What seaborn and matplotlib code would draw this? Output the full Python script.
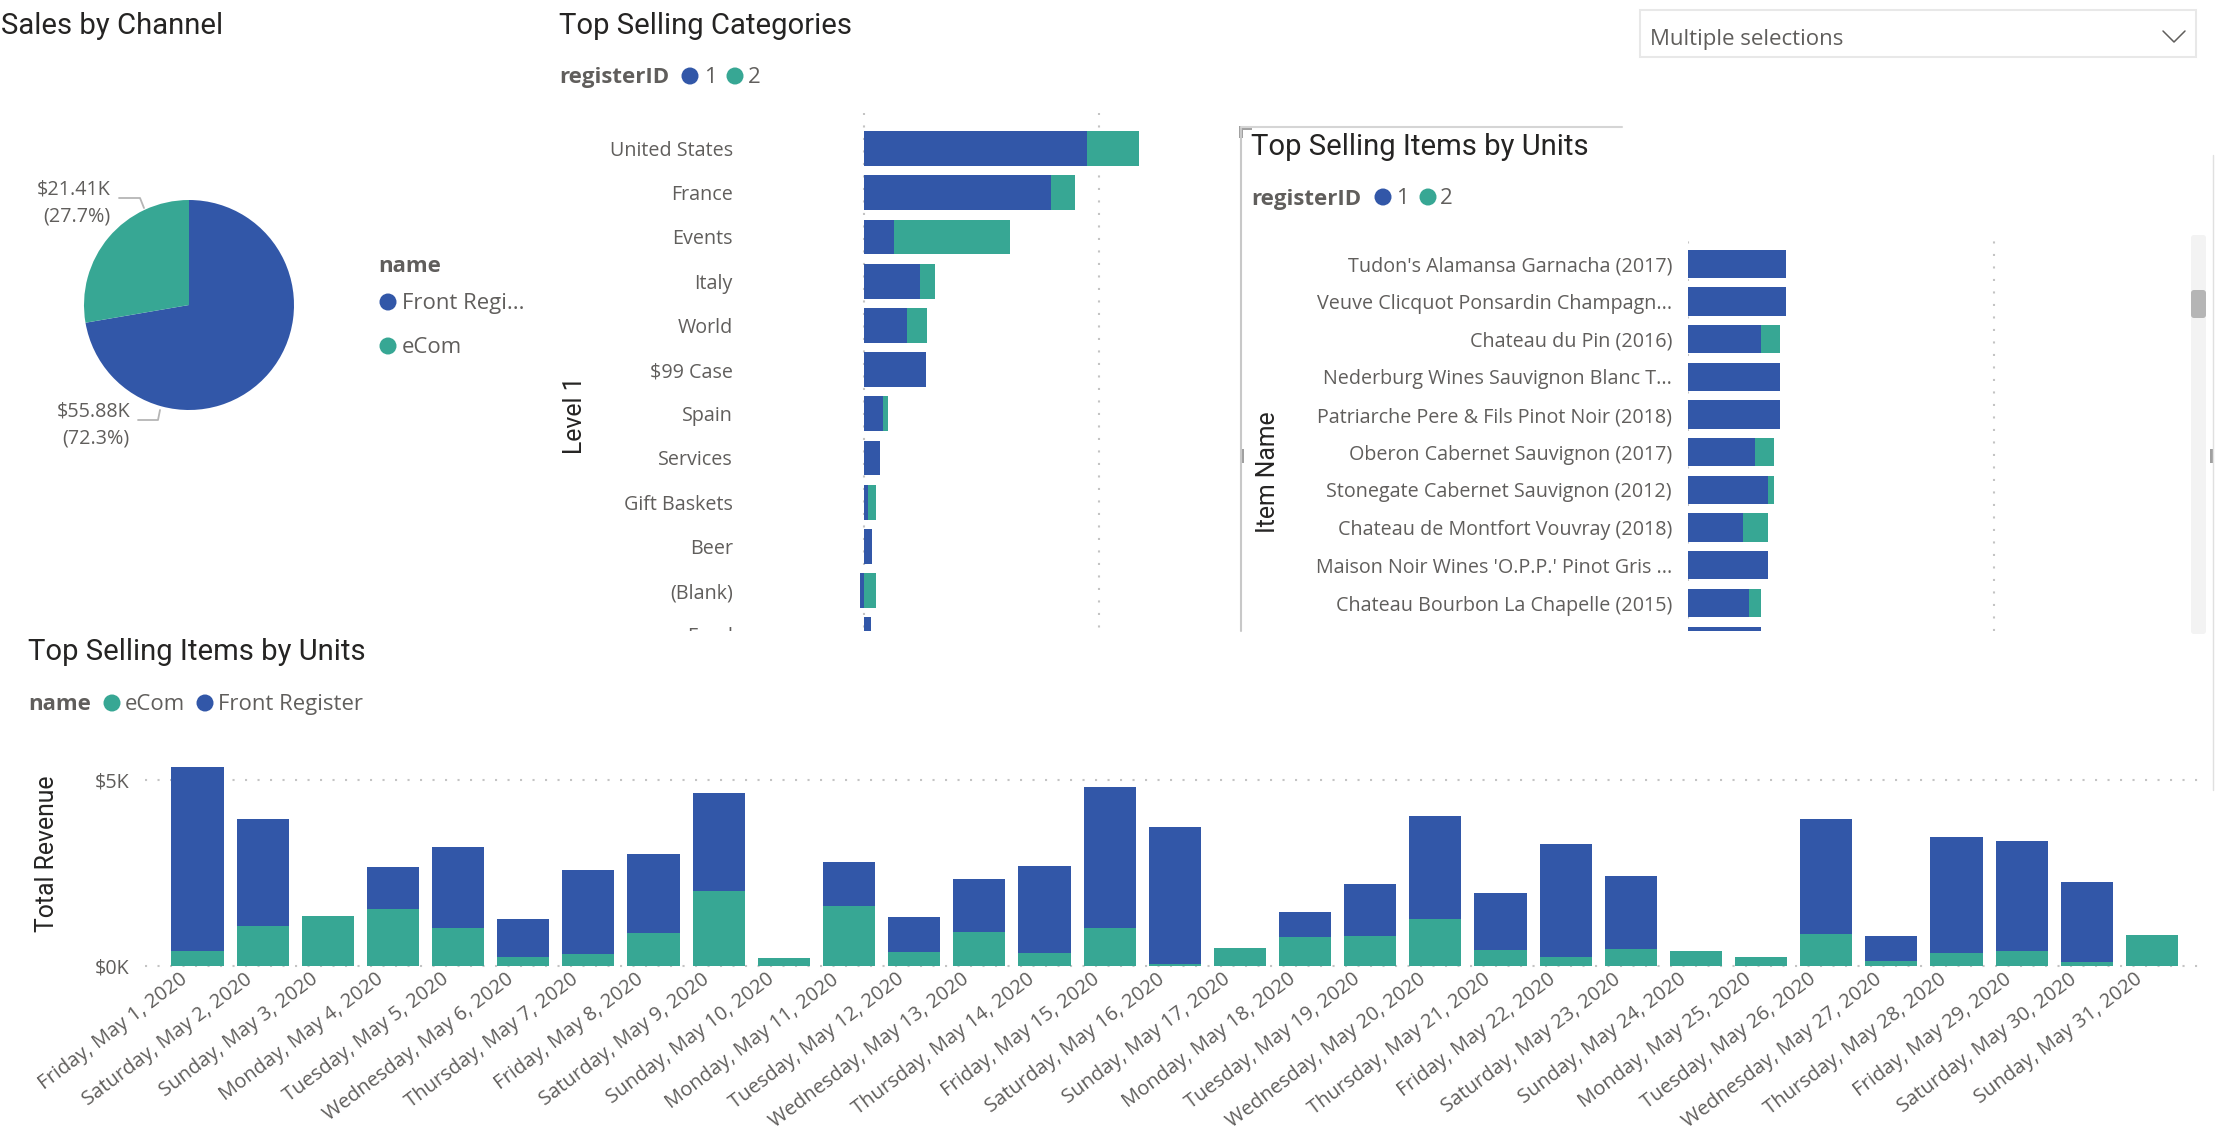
import matplotlib
matplotlib.use("Agg")
import matplotlib.pyplot as plt
from matplotlib.patches import Circle, FancyBboxPatch, Rectangle
from matplotlib.transforms import Bbox, ScaledTranslation
import seaborn as sns

W, H = 2215, 1133
BLUE = "#3257A8"
TEAL = "#37A794"
TXT = "#605E5C"
DARK = "#252423"
GRID = "#C4C4C4"

# --- data -------------------------------------------------------------
channel_names = ["Front Register", "eCom"]
channel_values = [55.88, 21.41]
channel_labels = ["$55.88K\n(72.3%)", "$21.41K\n(27.7%)"]

cat_names = ["United States", "France", "Events", "Italy", "World", "$99 Case",
             "Spain", "Services", "Gift Baskets", "Beer", "(Blank)", "Food"]
cat_reg1 = [9.48, 7.95, 1.27, 2.38, 1.82, 2.64, 0.81, 0.68, 0.16, 0.33, -0.16, 0.30]
cat_reg2 = [2.21, 1.01, 4.95, 0.65, 0.85, 0.0, 0.20, 0.0, 0.36, 0.0, 0.52, 0.0]

item_names = ["Tudon's Alamansa Garnacha (2017)", "Veuve Clicquot Ponsardin Champagn...",
              "Chateau du Pin (2016)", "Nederburg Wines Sauvignon Blanc T...",
              "Patriarche Pere & Fils Pinot Noir (2018)", "Oberon Cabernet Sauvignon (2017)",
              "Stonegate Cabernet Sauvignon (2012)", "Chateau de Montfort Vouvray (2018)",
              "Maison Noir Wines 'O.P.P.' Pinot Gris ...", "Chateau Bourbon La Chapelle (2015)",
              " "]
item_reg1 = [16, 16, 12, 15, 15, 11, 13, 9, 13, 10, 12]
item_reg2 = [0, 0, 3, 0, 0, 3, 1, 4, 0, 2, 0]

day_labels = ["Friday, May 1, 2020", "Saturday, May 2, 2020", "Sunday, May 3, 2020",
              "Monday, May 4, 2020", "Tuesday, May 5, 2020", "Wednesday, May 6, 2020",
              "Thursday, May 7, 2020", "Friday, May 8, 2020", "Saturday, May 9, 2020",
              "Sunday, May 10, 2020", "Monday, May 11, 2020", "Tuesday, May 12, 2020",
              "Wednesday, May 13, 2020", "Thursday, May 14, 2020", "Friday, May 15, 2020",
              "Saturday, May 16, 2020", "Sunday, May 17, 2020", "Monday, May 18, 2020",
              "Tuesday, May 19, 2020", "Wednesday, May 20, 2020", "Thursday, May 21, 2020",
              "Friday, May 22, 2020", "Saturday, May 23, 2020", "Sunday, May 24, 2020",
              "Monday, May 25, 2020", "Tuesday, May 26, 2020", "Wednesday, May 27, 2020",
              "Thursday, May 28, 2020", "Friday, May 29, 2020", "Saturday, May 30, 2020",
              "Sunday, May 31, 2020"]
day_total = [5.35, 3.94, 1.35, 2.65, 3.20, 1.27, 2.57, 3.02, 4.65, 0.21, 2.79, 1.31, 2.35,
             2.68, 4.81, 3.74, 0.48, 1.45, 2.20, 4.03, 1.95, 3.29, 2.42, 0.39, 0.25, 3.95,
             0.80, 3.46, 3.37, 2.27, 0.84]
day_ecom = [0.41, 1.08, 1.35, 1.52, 1.03, 0.23, 0.32, 0.89, 2.01, 0.21, 1.60, 0.38, 0.91,
            0.35, 1.01, 0.05, 0.48, 0.77, 0.81, 1.27, 0.43, 0.23, 0.45, 0.39, 0.25, 0.87,
            0.135, 0.35, 0.40, 0.11, 0.84]

# --- fonts ------------------------------------------------------------
sns.set_theme(style="white")
plt.rcParams["font.family"] = ["Open Sans", "DejaVu Sans"]
TITLE_FONT = ["Roboto", "DejaVu Sans"]
TICK = 14.2

fig = plt.figure(figsize=(W / 100, H / 100), dpi=100, facecolor="white")


def px_axes(l, t, r, b):
    return fig.add_axes([l / W, 1 - b / H, (r - l) / W, (b - t) / H])


def style_axes(ax):
    sns.despine(ax=ax, left=True, bottom=True, top=True, right=True)
    ax.set_facecolor("none")
    ax.set_axisbelow(True)
    ax.set_xlabel("")
    ax.set_ylabel("")


def clip_bottom(ax, bottom_px):
    box = Bbox.from_extents(0, H - bottom_px, W, H)
    artists = list(ax.patches) + list(ax.get_xgridlines()) + list(ax.get_yticklabels())
    for art in artists:
        art.set_clip_on(True)
        art.set_clip_box(box)


# --- pie --------------------------------------------------------------
cx, cy, rad = 189, 305, 105
pie_ax = px_axes(cx - rad, cy - rad, cx + rad, cy + rad)
pie_ax.pie(channel_values, colors=[BLUE, TEAL], startangle=90, counterclock=False, radius=1,
           wedgeprops={"linewidth": 0})
pie_ax.set_xlim(-1, 1)
pie_ax.set_ylim(-1, 1)

# --- categories -------------------------------------------------------
c_scale = 23.5
c_l, c_r, c_t, c_b = 850, 1215, 113, 640
c_ax = px_axes(c_l, c_t, c_r, c_b)
sns.barplot(y=cat_names, x=cat_reg2, left=[max(v, 0) for v in cat_reg1],
            color=TEAL, saturation=1, width=0.79, linewidth=0, ax=c_ax)
sns.barplot(y=cat_names, x=cat_reg1, color=BLUE, saturation=1, width=0.79, linewidth=0, ax=c_ax)
c_ax.set_xlim((c_l - 864) / c_scale, (c_r - 864) / c_scale)
c_ax.set_ylim((c_b - 148.6) / 44.2, (c_t - 148.6) / 44.2)
c_ax.set_xticks([0, 10])
c_ax.set_xticklabels([])
c_ax.xaxis.grid(True, color=GRID, linestyle=(0, (1, 5)), linewidth=1.5)
c_ax.yaxis.grid(False)
c_ax.tick_params(axis="y", length=0, pad=(c_l - 733) * 0.72, labelsize=TICK, labelcolor=TXT)
c_ax.tick_params(axis="x", length=0)
style_axes(c_ax)
clip_bottom(c_ax, 631)

# --- items ------------------------------------------------------------
i_scale = 306 / 50
i_l, i_r, i_t, i_b = 1688, 2180, 235, 631
i_ax = px_axes(i_l, i_t, i_r, i_b)
sns.barplot(y=item_names, x=item_reg2, left=item_reg1, color=TEAL, saturation=1, width=0.75,
            linewidth=0, ax=i_ax)
sns.barplot(y=item_names, x=item_reg1, color=BLUE, saturation=1, width=0.75, linewidth=0, ax=i_ax)
i_ax.set_xlim(0, (i_r - i_l) / i_scale)
i_ax.set_ylim((i_b - 263.7) / 37.7, (i_t - 263.7) / 37.7)
i_ax.set_xticks([0, 50])
i_ax.set_xticklabels([])
i_ax.xaxis.grid(True, color=GRID, linestyle=(0, (1, 5)), linewidth=1.5)
i_ax.yaxis.grid(False)
i_ax.tick_params(axis="y", length=0, pad=16 * 0.72, labelsize=TICK, labelcolor=TXT)
i_ax.tick_params(axis="x", length=0)
style_axes(i_ax)

# --- revenue by day ---------------------------------------------------
d_l, d_r, d_t, d_b = 145, 2205, 760, 966
d_ax = px_axes(d_l, d_t, d_r, d_b)
sns.barplot(x=day_labels, y=day_total, color=BLUE, saturation=1, width=0.8, linewidth=0, ax=d_ax)
sns.barplot(x=day_labels, y=day_ecom, color=TEAL, saturation=1, width=0.8, linewidth=0, ax=d_ax)
d_ax.set_xlim((d_l - 197.5) / 65.15, (d_r - 197.5) / 65.15)
d_ax.set_ylim(0, (d_b - d_t) / 37.2)
d_ax.set_yticks([0, 5])
d_ax.set_yticklabels(["$0K", "$5K"])
d_ax.yaxis.grid(True, color=GRID, linestyle=(0, (1, 5)), linewidth=1.5)
d_ax.xaxis.grid(False)
for gl in d_ax.get_ygridlines():
    gl.set_clip_on(False)
d_ax.tick_params(axis="y", length=0, pad=16 * 0.72, labelsize=TICK, labelcolor=TXT)
d_ax.tick_params(axis="x", length=0, pad=2.5, labelsize=14.5, labelcolor=TXT)
plt.setp(d_ax.get_xticklabels(), rotation=37, ha="right", rotation_mode="anchor")
shift = ScaledTranslation(-18 / 100, 0, fig.dpi_scale_trans)
for lab in d_ax.get_xticklabels():
    lab.set_transform(lab.get_transform() + shift)
style_axes(d_ax)

# --- page furniture in pixel coordinates ------------------------------
ov = fig.add_axes([0, 0, 1, 1], zorder=-1)
ov.set_xlim(0, W)
ov.set_ylim(H, 0)
ov.axis("off")
LEG = 15.9


def title(x, y, s):
    ov.text(x, y, s, fontsize=21.1, color=DARK, family=TITLE_FONT, ha="left", va="center")


def legend_head(x, y, s):
    ov.text(x, y, s, fontsize=16, color=TXT, fontweight="bold", ha="left", va="center")


def legend_item(cxp, y, color, tx, s):
    ov.add_patch(Circle((cxp, y), 8.5, color=color, lw=0))
    ov.text(tx, y + 1.5, s, fontsize=LEG, color=TXT, ha="left", va="center")


def axis_title(x, y, s):
    ov.text(x, y, s, fontsize=17.8, color=DARK, family=TITLE_FONT, rotation=90,
            ha="center", va="center")


title(1, 26, "Sales by Channel")
title(559, 26, "Top Selling Categories")
title(1251, 147, "Top Selling Items by Units")
title(28, 652, "Top Selling Items by Units")

legend_head(378, 267, "name")
legend_item(388, 302, BLUE, 402, "Front Regi...")
legend_item(388, 346, TEAL, 402, "eCom")

legend_head(559, 78, "registerID")
legend_item(690, 76, BLUE, 704, "1")
legend_item(735, 76, TEAL, 748, "2")

legend_head(1251, 199, "registerID")
legend_item(1383, 197, BLUE, 1396, "1")
legend_item(1428, 197, TEAL, 1440, "2")

legend_head(28, 705, "name")
legend_item(112, 703, TEAL, 125, "eCom")
legend_item(205, 703, BLUE, 218, "Front Register")

axis_title(575, 415, "Level 1")
axis_title(1268, 472, "Item Name")
axis_title(47, 854, "Total Revenue")

# pie labels and leaders
ov.text(111, 203, channel_labels[1], fontsize=TICK, color=TXT, ha="right", va="center",
        linespacing=1.5, multialignment="right")
ov.text(130, 425, channel_labels[0], fontsize=TICK, color=TXT, ha="right", va="center",
        linespacing=1.5, multialignment="right")
ov.plot([119, 140, 144], [198, 198, 208], color="#B5B5B5", lw=1.3)
ov.plot([138, 158, 160], [420, 420, 410], color="#B5B5B5", lw=1.3)

# slicer
ov.add_patch(Rectangle((1640, 10), 556, 47, fc="white", ec="#E8E8E8", lw=1.5))
ov.text(1650, 39, "Multiple selections", fontsize=16, color=TXT, ha="left", va="center")
ov.plot([2163, 2174, 2185], [31, 42, 31], color="#605E5C", lw=1.1)

# selected visual frame
ov.plot([1241, 1241], [128, 631], color="#C8C8C8", lw=1.5)
ov.plot([1241, 1622], [127, 127], color="#D5D5D5", lw=1.5)
ov.add_patch(Rectangle((1239, 126), 13, 4, color="#A0A0A0", lw=0))
ov.add_patch(Rectangle((1239, 126), 4, 12, color="#A0A0A0", lw=0))
ov.add_patch(Rectangle((1240, 449), 4, 14, color="#A0A0A0", lw=0))
ov.add_patch(Rectangle((2210, 449), 4, 14, color="#A0A0A0", lw=0))
ov.plot([2213.5, 2213.5], [155, 790], color="#E0E0E0", lw=1)

# scrollbar
ov.add_patch(FancyBboxPatch((2194, 238), 9, 393, boxstyle="round,pad=3", fc="#F3F3F3", ec="none"))
ov.add_patch(FancyBboxPatch((2194, 293), 9, 22, boxstyle="round,pad=3", fc="#B5B5B5", ec="none"))

fig.savefig("out.png", dpi=100, facecolor="white")
